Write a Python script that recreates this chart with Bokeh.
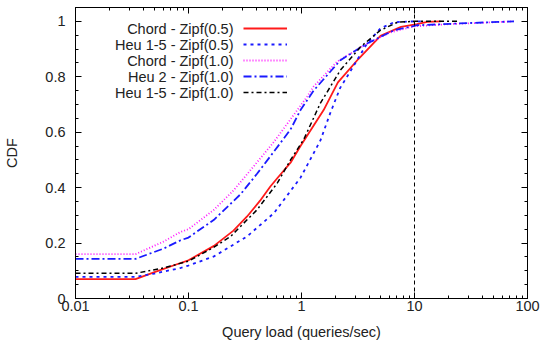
from bokeh.plotting import figure
from bokeh.models import (FixedTicker, CustomJSTickFormatter, LinearAxis, LogAxis,
                          Span, Legend, LegendItem, Label)
from bokeh.embed import file_html
from bokeh.resources import INLINE

# ---- data ----
chord05_x = [0.01, 0.034, 0.05, 0.085, 0.1, 0.168, 0.25, 0.33, 0.43, 0.53, 0.61, 0.8, 0.98, 1.57, 2.1, 3.2, 5.0, 7.6, 10.5, 13, 17]
chord05_y = [0.07, 0.07, 0.095, 0.128, 0.138, 0.19, 0.245, 0.296, 0.353, 0.404, 0.434, 0.49, 0.55, 0.68, 0.78, 0.865, 0.948, 0.98, 0.99, 0.998, 1.0]

heu15_05_x = [0.01, 0.034, 0.05, 0.085, 0.1, 0.168, 0.33, 0.57, 0.98, 1.47, 1.8, 2.2, 2.9, 3.8, 5.0, 6.6, 10, 12]
heu15_05_y = [0.078, 0.078, 0.09, 0.11, 0.119, 0.152, 0.224, 0.308, 0.436, 0.57, 0.67, 0.76, 0.84, 0.92, 0.975, 0.997, 1.0, 1.0]

chord10_x = [0.01, 0.034, 0.06, 0.085, 0.1, 0.168, 0.25, 0.31, 0.57, 1.12, 1.28, 2.07, 3.6, 6.1, 10, 20, 40, 75]
chord10_y = [0.16, 0.16, 0.205, 0.24, 0.25, 0.32, 0.39, 0.435, 0.565, 0.728, 0.765, 0.855, 0.914, 0.96, 0.982, 0.99, 0.995, 1.0]

heu2_10_x = [0.01, 0.034, 0.06, 0.085, 0.1, 0.168, 0.29, 0.404, 0.57, 0.8, 0.98, 1.28, 2.21, 3.8, 6.6, 10.6, 31, 76]
heu2_10_y = [0.143, 0.143, 0.18, 0.21, 0.22, 0.284, 0.377, 0.45, 0.53, 0.61, 0.68, 0.75, 0.86, 0.92, 0.968, 0.986, 0.994, 1.0]

heu15_10_x = [0.01, 0.034, 0.06, 0.1, 0.168, 0.236, 0.404, 0.61, 0.8, 1.05, 1.47, 2.21, 3.33, 5, 7.1, 10, 24]
heu15_10_y = [0.091, 0.091, 0.11, 0.135, 0.185, 0.224, 0.32, 0.416, 0.5, 0.575, 0.705, 0.824, 0.908, 0.968, 0.997, 1.0, 1.0]

series_labels = ["Chord - Zipf(0.5)", "Heu 1-5 - Zipf(0.5)", "Chord - Zipf(1.0)",
                 "Heu 2 - Zipf(1.0)", "Heu 1-5 - Zipf(1.0)"]

x_major = [0.01, 0.1, 1, 10, 100]
y_major = [0, 0.2, 0.4, 0.6, 0.8, 1.0]
threshold = 10

FONT = "Liberation Sans"
FS = "14.5px"

p = figure(width=541, height=342, x_axis_type="log", x_range=(0.01, 100), y_range=(0, 1.05),
           output_backend="svg", toolbar_location=None,
           min_border_left=75, min_border_right=14, min_border_top=7, min_border_bottom=43)
p.xgrid.visible = False
p.ygrid.visible = False
p.outline_line_color = "black"
p.outline_line_width = 1

x_minor = [m * d for d in x_major[:-1] for m in range(2, 10)]
y_minor = [round(i * 0.05, 2) for i in range(0, 22)]
xt = FixedTicker(ticks=x_major, minor_ticks=x_minor)
yt = FixedTicker(ticks=y_major, minor_ticks=y_minor)
fmt = CustomJSTickFormatter(code="return String(Math.round(tick*1000)/1000)")
blank = CustomJSTickFormatter(code="return ''")

def style(ax, labels=True):
    ax.major_tick_in = 6
    ax.major_tick_out = 0
    ax.minor_tick_in = 3
    ax.minor_tick_out = 0
    ax.axis_line_color = "black"
    ax.major_tick_line_color = "black"
    ax.minor_tick_line_color = "black"
    ax.major_label_text_font = FONT
    ax.major_label_text_font_size = FS if labels else "0px"
    ax.major_label_text_color = "#222222"
    ax.axis_label_text_font = FONT
    ax.axis_label_text_font_size = FS
    ax.axis_label_text_font_style = "normal"
    ax.axis_label_text_color = "#222222"

xa = p.xaxis[0]
xa.ticker = xt
xa.formatter = fmt
style(xa)
xa.major_label_standoff = 2
xa.axis_label = "Query load (queries/sec)"
xa.axis_label_standoff = 10

ya = p.yaxis[0]
ya.ticker = yt
ya.formatter = fmt
style(ya)
ya.major_label_standoff = 10
ya.axis_label = "CDF"
ya.axis_label_standoff = 22

top = LogAxis(ticker=xt, formatter=blank)
style(top, labels=False)
top.major_label_standoff = 0
p.add_layout(top, "above")
right = LinearAxis(ticker=yt, formatter=blank)
style(right, labels=False)
right.major_label_standoff = 0
p.add_layout(right, "right")

p.add_layout(Span(location=threshold, dimension="height", line_color="black",
                  line_width=1, line_dash="4 3"))

r1 = p.line(chord05_x, chord05_y, line_color="#ff1a1a", line_width=1.8)
r2 = p.line(heu15_05_x, heu15_05_y, line_color="#1a1aff", line_width=1.8, line_dash="3 4")
r3 = p.line(chord10_x, chord10_y, line_color="#ff1aff", line_width=1.8, line_dash="1 2")
r4 = p.line(heu2_10_x, heu2_10_y, line_color="#1a1aff", line_width=1.8, line_dash="8 3 2 3")
r5 = p.line(heu15_10_x, heu15_10_y, line_color="#000000", line_width=1.5, line_dash="5 3 2 3")
renderers = [r1, r2, r3, r4, r5]

legend = Legend(items=[LegendItem(label=" ", renderers=[r]) for r in renderers],
                location=(168, 198), glyph_width=44, glyph_height=16, spacing=0,
                padding=0, margin=0, label_standoff=0, label_width=0, label_height=16,
                label_text_font_size="1px", border_line_alpha=0, background_fill_alpha=0)
p.add_layout(legend, "center")

for i, lab in enumerate(series_labels):
    p.add_layout(Label(x=158, y=270 - 16 * i, x_units="screen", y_units="screen", text=lab,
                       text_align="right", text_baseline="middle", text_font=FONT,
                       text_font_size=FS, text_color="#222222"))

open("out.html", "w").write(file_html(p, INLINE))
